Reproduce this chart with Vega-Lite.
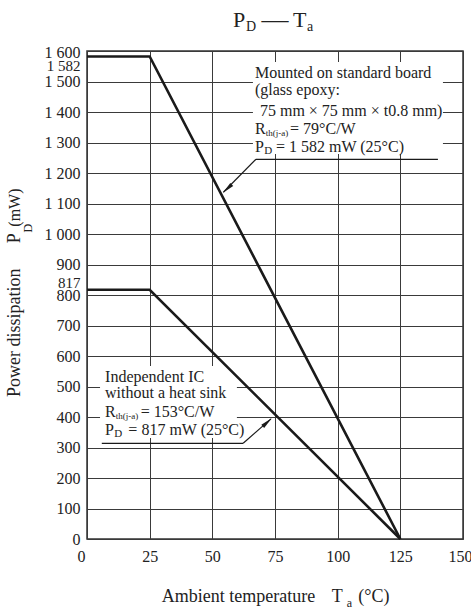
{
  "$schema": "https://vega.github.io/schema/vega-lite/v6.json",
  "width": 376,
  "height": 488,
  "autosize": {"type": "none"},
  "padding": {"left": 87, "top": 51, "right": 8, "bottom": 71},
  "background": "white",
  "config": {
    "view": {"stroke": "#333", "strokeWidth": 1.5},
    "font": "Liberation Serif",
    "text": {"font": "Liberation Serif"},
    "axis": {"labelOverlap": false, "labelBound": false, "labelFlush": false, "title": null, "domain": false, "ticks": false, "grid": true, "gridColor": "#3a3a3a", "gridWidth": 1, "labelFont": "Liberation Serif", "labelFontSize": 16, "labelColor": "#222"}
  },
  "layer": [
    {
      "data": {"values": [
        {"x": 66.2, "x2": 142, "y": 1564, "y2": 1262},
        {"x": 5.2, "x2": 59.8, "y": 567, "y2": 331}
      ]},
      "mark": {"type": "rect", "fill": "white", "stroke": null},
      "encoding": {
        "x": {
          "field": "x", "type": "quantitative",
          "scale": {"domain": [0, 150], "nice": false, "zero": false},
          "axis": {
            "values": [0, 25, 50, 75, 100, 125, 150], "tickCount": 10,
            "title": null, "labelPadding": 9, "labelOverlap": false,
            "labelOffset": {"condition": [
              {"test": "datum.value == 0", "value": -6},
              {"test": "datum.value == 150", "value": -3}
            ], "value": 0}
          }
        },
        "x2": {"field": "x2"},
        "y": {
          "field": "y", "type": "quantitative",
          "scale": {"domain": [0, 1600], "nice": false, "zero": false},
          "axis": {
            "values": [0, 100, 200, 300, 400, 500, 600, 700, 800, 817, 900, 1000, 1100, 1200, 1300, 1400, 1500, 1582, 1600],
            "tickCount": 25,
            "title": null, "labelPadding": 7, "labelOverlap": false,
            "gridOpacity": {"condition": {"test": "datum.value == 1582 || datum.value == 817", "value": 0}, "value": 1},
            "labelExpr": "replace(format(datum.value, ','), ',', ' ')",
            "labelFontSize": {"condition": {"test": "datum.value == 1582 || datum.value == 817", "value": 15}, "value": 16},
            "labelOffset": {"condition": [
              {"test": "datum.value == 1582", "value": 9},
              {"test": "datum.value == 1600", "value": 1.5},
              {"test": "datum.value == 817", "value": -7.5}
            ], "value": 0}
          }
        },
        "y2": {"field": "y2"}
      }
    },
    {
      "data": {"values": [
        {"s": "board", "t": 0, "p": 1582},
        {"s": "board", "t": 25, "p": 1582},
        {"s": "board", "t": 125, "p": 0},
        {"s": "ic", "t": 0, "p": 817},
        {"s": "ic", "t": 25, "p": 817},
        {"s": "ic", "t": 125, "p": 0}
      ]},
      "mark": {"type": "line", "color": "#1a1a1a", "strokeWidth": 2.6},
      "encoding": {
        "detail": {"field": "s", "type": "nominal"},
        "x": {"field": "t", "type": "quantitative", "title": null},
        "y": {"field": "p", "type": "quantitative", "title": null}
      }
    },
    {
      "data": {"values": [
        {"x": 67.4, "y": 1245, "x2": 140.0, "y2": 1245},
        {"x": 67.4, "y": 1245, "x2": 54.4, "y2": 1137},
        {"x": 5.9, "y": 313.8, "x2": 62.3, "y2": 313.8},
        {"x": 62.3, "y": 313.8, "x2": 73.4, "y2": 394}
      ]},
      "mark": {"type": "rule", "color": "#1a1a1a", "strokeWidth": 1.2},
      "encoding": {
        "x": {"field": "x", "type": "quantitative", "title": null},
        "y": {"field": "y", "type": "quantitative", "title": null},
        "x2": {"field": "x2"},
        "y2": {"field": "y2"}
      }
    },
    {
      "data": {"values": [
        {"x": 56.0, "y": 1148.9, "a": 227},
        {"x": 71.9, "y": 382.6, "a": 48.6}
      ]},
      "mark": {"type": "point", "shape": "M0,-1L0.36,1L-0.36,1Z", "filled": true, "color": "#1a1a1a", "size": 144, "opacity": 1},
      "encoding": {
        "x": {"field": "x", "type": "quantitative", "title": null},
        "y": {"field": "y", "type": "quantitative", "title": null},
        "angle": {"field": "a", "type": "quantitative", "scale": null}
      }
    },
    {
      "data": {"values": [
        {"t": "Mounted on standard board", "x": 67.0, "y": 1528, "s": 16, "a": 0},
        {"t": "(glass epoxy:", "x": 67.0, "y": 1472, "s": 16, "a": 0},
        {"t": "75 mm × 75 mm × t0.8 mm)", "x": 69.0, "y": 1403, "s": 16, "a": 0},
        {"t": "R", "x": 67.0, "y": 1344, "s": 16, "a": 0},
        {"t": "th(j-a)", "x": 71.3, "y": 1331, "s": 9, "a": 0},
        {"t": "= 79°C/W", "x": 81.0, "y": 1344, "s": 16, "a": 0},
        {"t": "P", "x": 67.0, "y": 1286, "s": 16, "a": 0},
        {"t": "D", "x": 70.7, "y": 1272, "s": 11, "a": 0},
        {"t": "= 1 582 mW (25°C)", "x": 75.4, "y": 1286, "s": 16, "a": 0},
        {"t": "Independent IC", "x": 7.2, "y": 532, "s": 16, "a": 0},
        {"t": "without a heat sink", "x": 7.2, "y": 477.7, "s": 16, "a": 0},
        {"t": "R", "x": 7.2, "y": 417.4, "s": 16, "a": 0},
        {"t": "th(j-a)", "x": 11.5, "y": 403, "s": 9, "a": 0},
        {"t": "= 153°C/W", "x": 21.4, "y": 417.4, "s": 16, "a": 0},
        {"t": "P", "x": 7.2, "y": 357.4, "s": 16, "a": 0},
        {"t": "D", "x": 10.9, "y": 344, "s": 11, "a": 0},
        {"t": "= 817 mW (25°C)", "x": 16.5, "y": 357.4, "s": 16, "a": 0},
        {"t": "P", "x": 58.2, "y": 1701, "s": 22, "a": 0},
        {"t": "D", "x": 63.4, "y": 1679, "s": 14, "a": 0},
        {"t": "—", "x": 69.6, "y": 1701, "s": 27, "a": 0},
        {"t": "T", "x": 82.2, "y": 1701, "s": 22, "a": 0},
        {"t": "a", "x": 87.8, "y": 1679, "s": 14, "a": 0},
        {"t": "Ambient temperature", "x": 29.8, "y": -189, "s": 18, "a": 0},
        {"t": "T", "x": 97.6, "y": -189, "s": 18, "a": 0},
        {"t": "a", "x": 103.6, "y": -209, "s": 12, "a": 0},
        {"t": "(°C)", "x": 108.2, "y": -189, "s": 18, "a": 0},
        {"t": "Power dissipation", "x": -28.7, "y": 465.6, "s": 18, "a": 270},
        {"t": "P", "x": -28.7, "y": 970, "s": 18, "a": 270},
        {"t": "D", "x": -23.5, "y": 1005, "s": 12, "a": 270},
        {"t": "(mW)", "x": -28.7, "y": 1024, "s": 16, "a": 270}
      ]},
      "mark": {"type": "text", "align": "left", "baseline": "middle", "color": "#222", "font": "Liberation Serif"},
      "encoding": {
        "x": {"field": "x", "type": "quantitative", "title": null},
        "y": {"field": "y", "type": "quantitative", "title": null},
        "text": {"field": "t", "type": "nominal"},
        "size": {"field": "s", "type": "quantitative", "scale": null},
        "angle": {"field": "a", "type": "quantitative", "scale": null}
      }
    }
  ]
}
